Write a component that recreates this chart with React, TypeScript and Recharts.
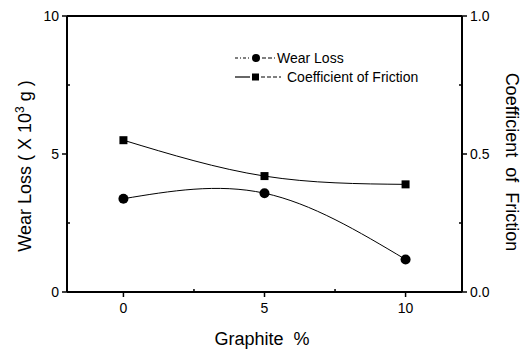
import {
  ComposedChart,
  Line,
  XAxis,
  YAxis,
  ReferenceLine,
} from "recharts";

const graphite = [0, 5, 10];
const wearLoss = [3.38, 3.58, 1.18];
const friction = [0.55, 0.42, 0.39];

const xTicks = [0, 2.5, 5, 7.5, 10];
const leftTicks = [0, 2.5, 5, 7.5, 10];
const rightTicks = [0, 0.25, 0.5, 0.75, 1.0];

const FONT = "'Liberation Sans', Arial, sans-serif";

const data = graphite.map((g, i) => ({
  graphite: g,
  wear: wearLoss[i],
  friction: friction[i],
}));

function XTick({ x, y, payload }: any) {
  const v = payload.value as number;
  const major = Number.isInteger(v);
  return (
    <g>
      <line x1={x} x2={x} y1={y} y2={major ? y + 5 : y - 3} stroke="#000" strokeWidth={1.5} />
      {major && (
        <text x={x} y={y + 21} textAnchor="middle" fontSize={14} fontFamily={FONT} fill="#000">
          {v}
        </text>
      )}
    </g>
  );
}

function LeftTick({ x, y, payload }: any) {
  const v = payload.value as number;
  const major = Number.isInteger(v);
  return (
    <g>
      <line x1={major ? x - 5 : x} x2={major ? x : x + 3} y1={y} y2={y} stroke="#000" strokeWidth={1.5} />
      {major && (
        <text x={x - 8} y={y + 5} textAnchor="end" fontSize={14} fontFamily={FONT} fill="#000">
          {v}
        </text>
      )}
    </g>
  );
}

function RightTick({ x, y, payload }: any) {
  const v = payload.value as number;
  const major = Number.isInteger(v * 2);
  return (
    <g>
      <line x1={major ? x : x - 3} x2={major ? x + 5 : x} y1={y} y2={y} stroke="#000" strokeWidth={1.5} />
      {major && (
        <text x={x + 8} y={y + 5} textAnchor="start" fontSize={14} fontFamily={FONT} fill="#000">
          {v.toFixed(1)}
        </text>
      )}
    </g>
  );
}

function SquareDot({ cx, cy }: any) {
  if (cx == null || cy == null) return null;
  return <rect x={cx - 4} y={cy - 4} width={8} height={8} fill="#000" />;
}

function CircleDot({ cx, cy }: any) {
  if (cx == null || cy == null) return null;
  return <circle cx={cx} cy={cy} r={5} fill="#000" />;
}

// series key drawn in the upper middle of the plot
function SeriesKey({ x, y }: { x: number; y: number }) {
  return (
    <g transform={`translate(${x}, ${y})`} fontFamily={FONT} fontSize={14} fill="#000">
      <line x1={0} x2={16} y1={10} y2={10} stroke="#000" strokeWidth={1} strokeDasharray="3 2 1 2" />
      <circle cx={21} cy={10} r={4} fill="#000" />
      <line x1={27} x2={40} y1={10} y2={10} stroke="#000" strokeWidth={1} strokeDasharray="4 2" />
      <text x={42} y={15}>Wear Loss</text>
      <line x1={0} x2={15} y1={29} y2={29} stroke="#000" strokeWidth={1.2} />
      <rect x={17} y={25.5} width={7} height={7} fill="#000" />
      <line x1={26} x2={46} y1={29} y2={29} stroke="#000" strokeWidth={1} strokeDasharray="4 2" />
      <text x={52} y={34}>Coefficient of Friction</text>
    </g>
  );
}

export default function App() {
  return (
    <div style={{ position: "absolute", left: 0, top: 0, width: 525, height: 353, background: "#fff" }}>
      <ComposedChart
        width={525}
        height={353}
        data={data}
        margin={{ top: 16, right: 0, bottom: 0, left: 0 }}
      >
        <XAxis
          dataKey="graphite"
          type="number"
          domain={[-2, 12]}
          ticks={xTicks}
          interval={0}
          height={61}
          tickSize={0}
          tickMargin={0}
          tickLine={false}
          axisLine={{ stroke: "#000", strokeWidth: 2 }}
          tick={<XTick />}
          allowDataOverflow
        />
        <YAxis
          yAxisId="left"
          domain={[0, 10]}
          ticks={leftTicks}
          interval={0}
          width={67}
          tickSize={0}
          tickMargin={0}
          tickLine={false}
          axisLine={{ stroke: "#000", strokeWidth: 2 }}
          tick={<LeftTick />}
        />
        <YAxis
          yAxisId="right"
          orientation="right"
          domain={[0, 1]}
          ticks={rightTicks}
          interval={0}
          width={63}
          tickSize={0}
          tickMargin={0}
          tickLine={false}
          axisLine={{ stroke: "#000", strokeWidth: 2 }}
          tick={<RightTick />}
        />
        <ReferenceLine yAxisId="left" y={10} stroke="#000" strokeWidth={2} />
        <Line
          yAxisId="left"
          type="natural"
          dataKey="wear"
          name="Wear Loss"
          stroke="#000"
          strokeWidth={1}
          dot={<CircleDot />}
          activeDot={false}
          isAnimationActive={false}
        />
        <Line
          yAxisId="right"
          type="natural"
          dataKey="friction"
          name="Coefficient of Friction"
          stroke="#000"
          strokeWidth={1}
          dot={<SquareDot />}
          activeDot={false}
          isAnimationActive={false}
        />
      </ComposedChart>
      <svg
        width={525}
        height={353}
        style={{ position: "absolute", left: 0, top: 0, pointerEvents: "none" }}
      >
        <SeriesKey x={235} y={48} />
        <g fontFamily={FONT} fontSize={18} fill="#000">
          <text x={31} y={166} textAnchor="middle" transform="rotate(-90, 31, 166)">
            Wear Loss ( X 10
            <tspan fontSize={12} dy={-7}>3</tspan>
            <tspan dy={7}> g )</tspan>
          </text>
          <text x={506} y={162} textAnchor="middle" transform="rotate(90, 506, 162)" xmlSpace="preserve">
            Coefficient  of  Friction
          </text>
          <text x={262} y={345} textAnchor="middle" xmlSpace="preserve">
            Graphite  %
          </text>
        </g>
      </svg>
    </div>
  );
}
